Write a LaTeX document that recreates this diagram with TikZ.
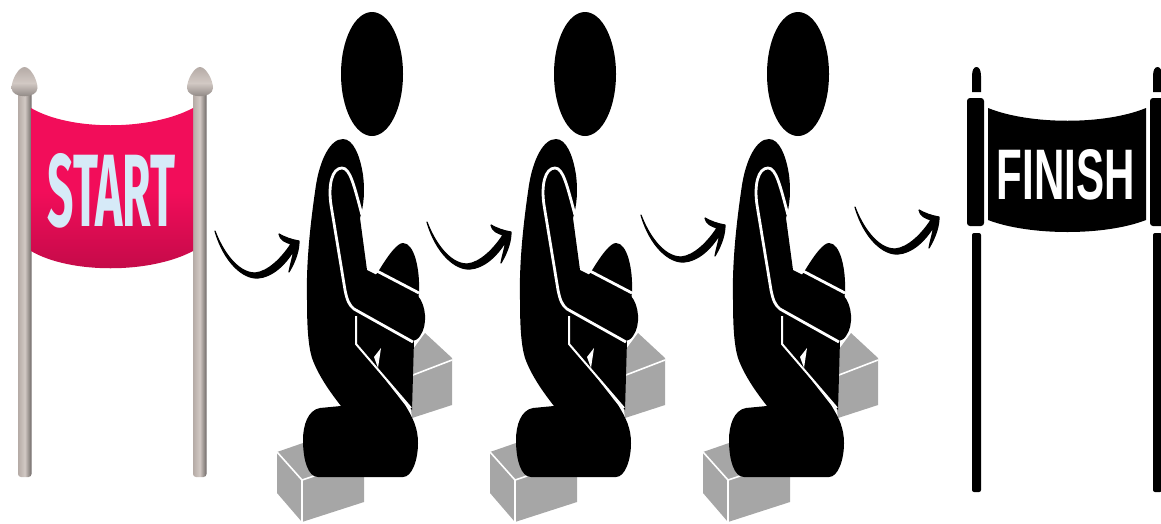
\documentclass[tikz,border=0pt]{standalone}
\usepackage{fontspec}
\usepackage{graphicx}
\setmainfont{Liberation Sans}
\newfontfamily\startfont{Fira Sans}
\definecolor{boxgray}{HTML}{A6A6A6}
\definecolor{polelight}{HTML}{D2C9C4}
\definecolor{polemid}{HTML}{B5ABA6}
\definecolor{poledark}{HTML}{6F6967}
\definecolor{flag}{HTML}{F20D5A}
\definecolor{starttext}{HTML}{D6EAF8}
\tikzset{
  ink/.style={fill=black,draw=none},
  seam/.style={draw=white,line width=2.8pt,line join=round},
  thinseam/.style={draw=white,line width=2pt,line join=round},
  edgeline/.style={draw=white,line width=1.6pt},
  person/.pic={
    % boxes
    \fill[boxgray] (277,452)--(303,443)--(340,470)--(364,477)--(364,502)--(302,522)--(277,493)--cycle;
    \draw[edgeline] (277,452)--(302,480)--(302,522) (302,480)--(320,474);
    \fill[boxgray] (425,333)--(452,358)--(452,405)--(412,418)--(405,360)--cycle;
    \draw[edgeline] (413,375)--(452,360);
    % knee and shin
    \fill[ink] (378,272) .. controls (390,252) and (398,243) .. (403,243)
       .. controls (414,243) and (420,268) .. (419,292)
       -- (414,340) -- (412,410) -- (356,345) -- (356,300) -- cycle;
    % body
    \fill[ink] (343,139) .. controls (330,139) and (320,160) .. (316,185)
       .. controls (310,225) and (306,265) .. (307,300)
       .. controls (307,325) and (308,345) .. (312,358)
       .. controls (318,375) and (330,392) .. (341,406)
       -- (320,408) .. controls (308,410) and (303,425) .. (303,440)
       .. controls (303,460) and (308,477) .. (318,477)
       -- (403,477) .. controls (412,477) and (418,460) .. (418,443)
       .. controls (418,428) and (413,418) .. (405,405)
       -- (358,345) -- (356,312) -- (367,270) -- (360,218)
       .. controls (364,205) and (365,190) .. (363,175)
       .. controls (360,155) and (353,139) .. (343,139) -- cycle;
    % forearm
    \fill[ink] (350,262) -- (367,270) -- (418,296)
       .. controls (426,305) and (428,325) .. (420,336)
       .. controls (416,342) and (410,342) .. (404,340)
       -- (352,312) -- cycle;
    % seams
    \draw[seam] (375,270) -- (419,293);
    \draw[seam] (413,342) -- (354,309) .. controls (349,305) and (347,300) .. (345,290)
       -- (331,205) .. controls (328,185) and (332,168) .. (342,168)
       .. controls (350,168) and (354,185) .. (362,215);
    \draw[thinseam] (356,316) -- (356,344) -- (411,408);
    \fill[white] (374,357) -- (381,348) -- (378,368) -- cycle;
  },
  swoop/.pic={
    \filldraw[black,line width=1.2pt,line join=round] (215,231) .. controls (224,262) and (243,279) .. (258,278)
       .. controls (272,277) and (285,265) .. (294,250)
       .. controls (292,260) and (290,266) .. (289,272)
       .. controls (296,260) and (299,250) .. (299,241)
       .. controls (292,240) and (284,237) .. (279,234)
       .. controls (280,240) and (285,242) .. (291,244)
       .. controls (282,258) and (268,272) .. (255,273)
       .. controls (237,273) and (222,250) .. (215,231) -- cycle;
  }
}
\begin{document}
\begin{tikzpicture}[x=1pt,y=-1pt]
\useasboundingbox (0,0) rectangle (1161,523);
\clip (0,0) rectangle (1161,523);
% START banner
\foreach \px in {18,193}{
  \shade[left color=polemid,right color=poledark,middle color=polelight,rounded corners=3pt]
    (\px,92) rectangle (\px+13.5,477);
}
\foreach \kx in {24.5,200}{
  \shade[top color=polemid,bottom color=poledark!70!polemid,middle color=polelight]
    (\kx-13,88) .. controls (\kx-13,80) and (\kx-6,67) .. (\kx,67)
    .. controls (\kx+6,67) and (\kx+13,80) .. (\kx+13,88)
    .. controls (\kx+13,99) and (\kx-13,99) .. (\kx-13,88) -- cycle;
}
\shade[top color=flag,bottom color=flag!80!black,middle color=flag]
  (31,108) .. controls (70,131) and (150,131) .. (193,108)
  -- (193,251) .. controls (150,274) and (70,274) .. (31,251) -- cycle;
\node[inner sep=0pt,text=starttext,font=\startfont\bfseries] (start) at (111.5,191)
  {\resizebox{128pt}{73pt}{START}};
% persons
\foreach \dx in {0,213,426}{
  \fill[black,xshift=\dx pt] (372,74) ellipse[x radius=31,y radius=62];
  \pic[xshift=\dx pt] {person};
}
% arrows
\pic {swoop};
\pic[xshift=212pt,yshift=9pt] {swoop};
\pic[xshift=426pt,yshift=16pt] {swoop};
\pic[xshift=640pt,yshift=24pt] {swoop};
% FINISH banner
\fill[black,rounded corners=3pt] (967,98) rectangle (984,226);
\fill[black,rounded corners=3pt] (1150,98) rectangle (1170,226);
\foreach \qx in {972,1153}{
  \fill[black] (\qx,92) -- (\qx,76) .. controls (\qx,70) and (\qx+2,67) .. (\qx+4.5,67)
     .. controls (\qx+7,67) and (\qx+9,70) .. (\qx+9,76) -- (\qx+9,92) -- cycle;
  \fill[black,rounded corners=2pt] (\qx,233) rectangle (\qx+9,492);
}
\fill[black] (988,108) .. controls (1030,125) and (1105,125) .. (1146,108)
  -- (1146,220) .. controls (1105,236) and (1030,236) .. (988,220) -- cycle;
\node[inner sep=0pt,text=white,font=\bfseries] (finish) at (1066,175)
  {\resizebox{138pt}{50pt}{FINISH}};
\end{tikzpicture}
\end{document}
